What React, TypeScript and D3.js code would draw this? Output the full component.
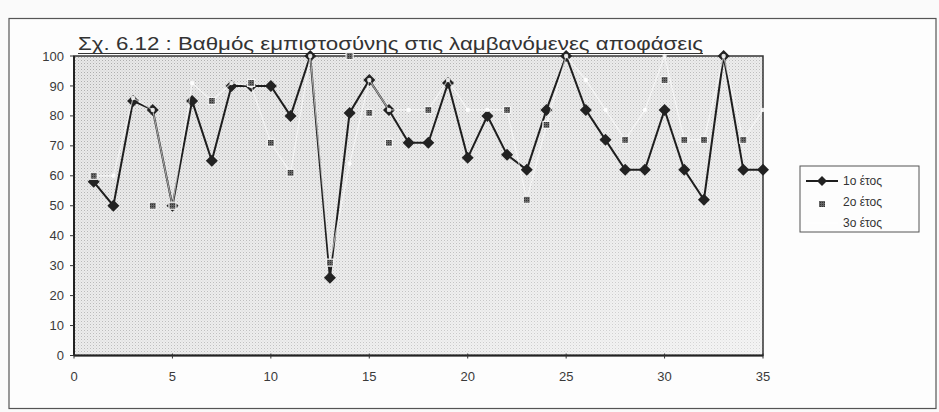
import React from "react";
import * as d3 from "d3";

const days = [1,2,3,4,5,6,7,8,9,10,11,12,13,14,15,16,17,18,19,20,21,22,23,24,25,26,27,28,29,30,31,32,33,34,35];
const year1: (number|null)[] = [58,50,85,82,50,85,65,90,90,90,80,100,26,81,92,82,71,71,91,66,80,67,62,82,100,82,72,62,62,82,62,52,100,62,62];
const year2: (number|null)[] = [60,null,null,50,50,null,85,null,91,71,61,null,31,100,81,71,null,82,null,null,null,82,52,77,null,null,null,72,null,92,72,72,null,72,null];
const year3: (number|null)[] = [60,60,86,82,50,91,85,91,90,71,61,100,31,64,92,82,82,82,92,82,82,82,52,77,100,92,82,72,82,100,72,72,100,72,82];
const seriesNames = ["1ο έτος", "2ο έτος", "3ο έτος"];
const yTicks = [0,10,20,30,40,50,60,70,80,90,100];
const xTicks = [0,5,10,15,20,25,30,35];
const title = "Σχ. 6.12 : Βαθμός εμπιστοσύνης στις λαμβανόμενες αποφάσεις";

const W = 939, H = 412;
const M = { left: 74, right: 763, top: 56, bottom: 355.5 };
const FONT = "'Liberation Sans', Arial, sans-serif";

export default function App() {
  const x = d3.scaleLinear().domain([0, 35]).range([M.left, M.right]);
  const y = d3.scaleLinear().domain([0, 100]).range([M.bottom, M.top]);

  const mk = (vals: (number|null)[]) =>
    d3.line<number>()
      .defined((_, i) => vals[i] != null)
      .x((d) => x(d))
      .y((_, i) => y(vals[i] as number))(days) || "";

  const diamond = (cx: number, cy: number, r: number) =>
    `M${cx},${cy - r}L${cx + r},${cy}L${cx},${cy + r}L${cx - r},${cy}Z`;

  const legX = 800, legY = 166;

  return (
    <svg width={W} height={H} style={{ position: "absolute", left: 0, top: 0, background: "#fafafa" }}>
      <defs>
        <pattern id="dots" width="3" height="3" patternUnits="userSpaceOnUse">
          <rect width="3" height="3" fill="#e8e8e8" />
          <rect x="0" y="0" width="1" height="1" fill="#acacac" />
          <rect x="1.5" y="1.5" width="1" height="1" fill="#c8c8c8" />
        </pattern>
        <linearGradient id="fade" x1="0" y1="0" x2="1" y2="1">
          <stop offset="0" stopColor="#ffffff" stopOpacity="0" />
          <stop offset="0.6" stopColor="#ffffff" stopOpacity="0.25" />
          <stop offset="1" stopColor="#ffffff" stopOpacity="0.55" />
        </linearGradient>
        <pattern id="sq" width="2" height="2" patternUnits="userSpaceOnUse">
          <rect width="2" height="2" fill="#666" />
          <rect width="1" height="1" fill="#333" />
        </pattern>
      </defs>

      {/* outer frame */}
      <rect x={9} y={18.5} width={927} height={390} fill="#fdfdfd" stroke="#555" strokeWidth={1.2} />

      {/* plot area */}
      <rect x={M.left} y={M.top} width={M.right - M.left} height={M.bottom - M.top} fill="url(#dots)" />
      <rect x={M.left} y={M.top} width={M.right - M.left} height={M.bottom - M.top} fill="url(#fade)" />
      <rect x={M.left} y={M.top} width={M.right - M.left} height={M.bottom - M.top} fill="none" stroke="#333" strokeWidth={1.5} />

      {/* title */}
      <text x={78} y={50} fontFamily={FONT} fontSize={18.5} fill="#333" textLength={625} lengthAdjust="spacingAndGlyphs">{title}</text>
      <line x1={78} x2={703} y1={53.5} y2={53.5} stroke="#333" strokeWidth={1.2} />

      {/* y axis */}
      <line x1={M.left} x2={M.left} y1={M.top} y2={M.bottom} stroke="#222" strokeWidth={2} />
      {yTicks.map((t) => (
        <g key={"y" + t}>
          <line x1={M.left - 4} x2={M.left} y1={y(t)} y2={y(t)} stroke="#333" strokeWidth={1} />
          <text x={M.left - 10} y={y(t)} dy="0.35em" textAnchor="end" fontFamily={FONT} fontSize={13} fill="#3a3a3a">{t}</text>
        </g>
      ))}

      {/* x axis */}
      <line x1={M.left} x2={M.right} y1={M.bottom} y2={M.bottom} stroke="#222" strokeWidth={2} />
      {xTicks.map((t) => (
        <g key={"x" + t}>
          <line x1={x(t)} x2={x(t)} y1={M.bottom - 2} y2={M.bottom + 3} stroke="#333" strokeWidth={1} />
          <text x={x(t)} y={M.bottom + 21} dy="0.35em" textAnchor="middle" fontFamily={FONT} fontSize={13} fill="#3a3a3a">{t}</text>
        </g>
      ))}

      {/* series 1 */}
      <path d={mk(year1)} fill="none" stroke="#1e1e1e" strokeWidth={2} />
      {days.map((d, i) => year1[i] == null ? null : (
        <path key={"a" + d} d={diamond(x(d), y(year1[i] as number), 6)} fill="#222" />
      ))}

      {/* series 3 (white) */}
      <path d={mk(year3)} fill="none" stroke="#ffffff" strokeWidth={1.2} strokeOpacity={0.6} />
      {days.map((d, i) => year3[i] == null ? null : (
        <circle key={"c" + d} cx={x(d)} cy={y(year3[i] as number)} r={2.2} fill="#ffffff" fillOpacity={0.85} />
      ))}

      {/* series 2 */}
      {days.map((d, i) => year2[i] == null ? null : (
        <rect key={"b" + d} x={x(d) - 3.5} y={y(year2[i] as number) - 3.5} width={7} height={7} fill="url(#sq)" stroke="#f4f4f4" strokeWidth={1.2} />
      ))}

      {/* legend */}
      <rect x={legX} y={legY} width={119} height={66} fill="#fdfdfd" stroke="#555" strokeWidth={1} />
      <line x1={legX + 6} x2={legX + 38} y1={legY + 15} y2={legY + 15} stroke="#1e1e1e" strokeWidth={2} />
      <path d={diamond(legX + 22, legY + 15, 5)} fill="#222" />
      <rect x={legX + 19} y={legY + 35} width={6} height={6} fill="url(#sq)" />
      <line x1={legX + 6} x2={legX + 38} y1={legY + 57} y2={legY + 57} stroke="#ffffff" strokeWidth={1.3} />
      {seriesNames.map((n, i) => (
        <text key={n} x={legX + 43} y={legY + 15 + i * 21} dy="0.35em" fontFamily={FONT} fontSize={12} fill="#333">{n}</text>
      ))}
    </svg>
  );
}
